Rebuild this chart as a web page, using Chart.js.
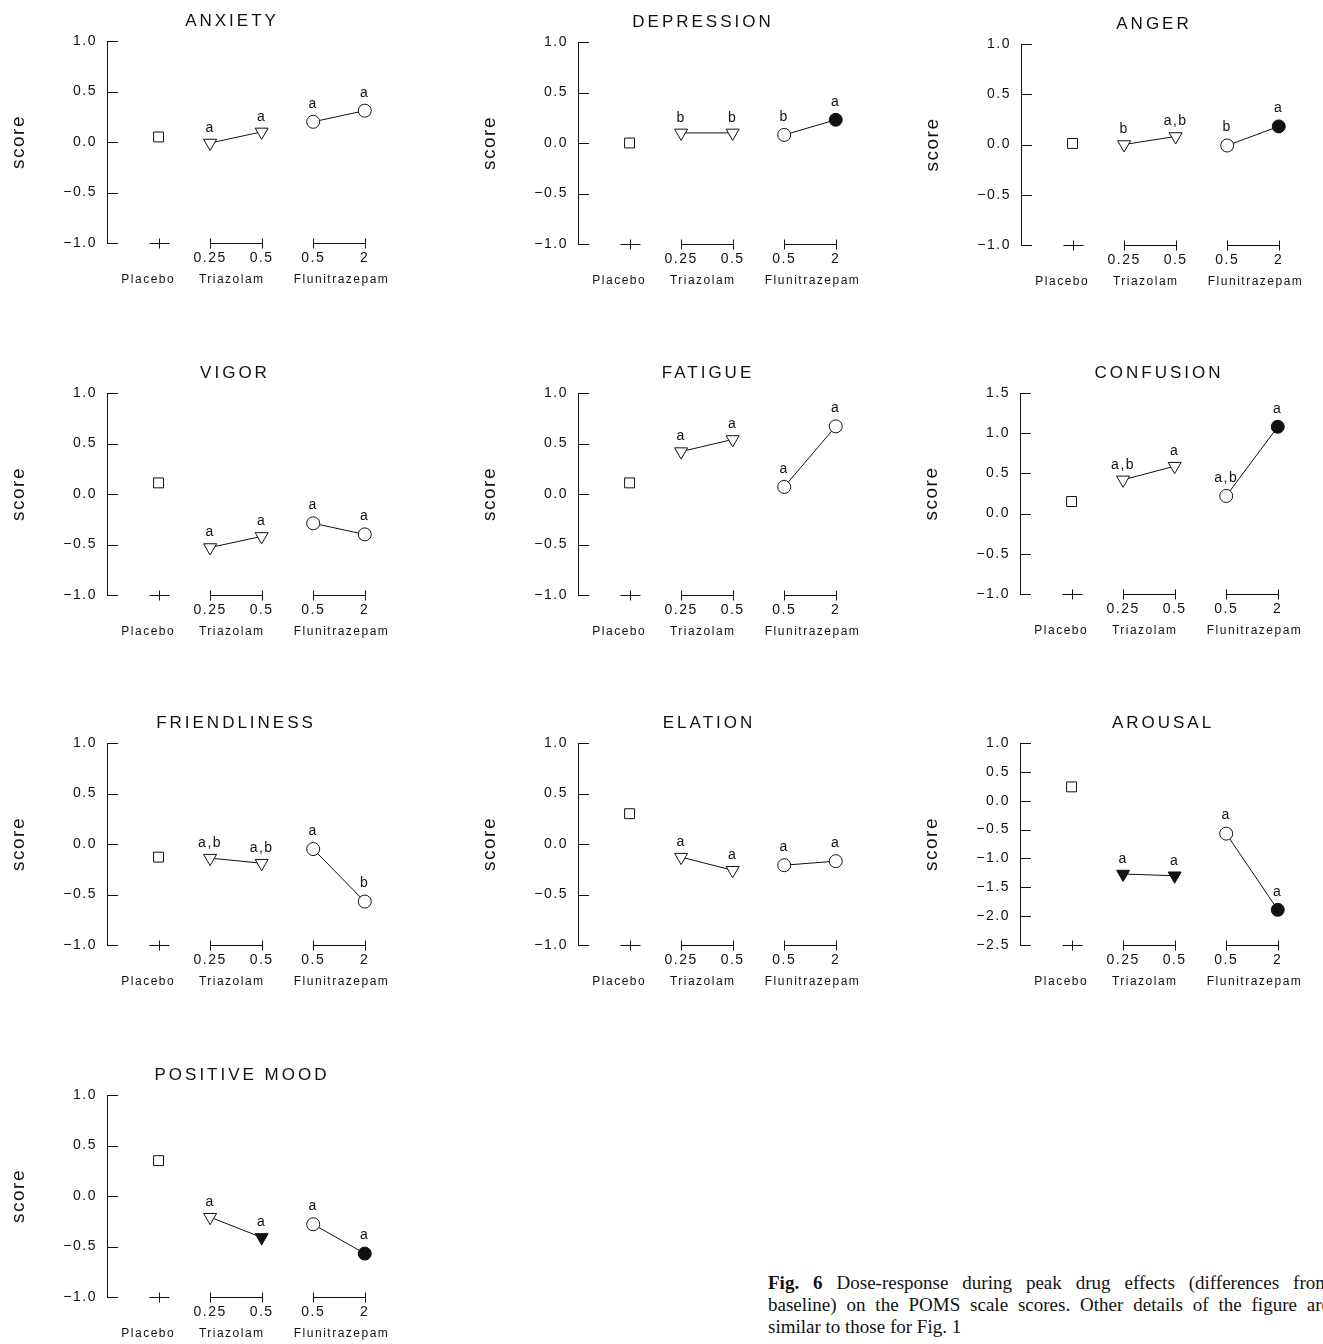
<!DOCTYPE html>
<html>
<head>
<meta charset="utf-8">
<title>POMS dose-response</title>
<script src="https://cdn.jsdelivr.net/npm/chart.js@4.4.1/dist/chart.umd.min.js"></script>
<style>
  html, body { margin: 0; padding: 0; background: #fff; overflow: hidden; }
  body { width: 1323px; height: 1344px; position: relative; }
  .panel { position: absolute; }
  .caption {
    position: absolute; left: 768px; top: 1272px; width: 562px;
    font-family: "Liberation Serif", "DejaVu Serif", serif; font-size: 19px;
    line-height: 22px; color: #111;
  }
  .caption div { text-align: justify; text-align-last: justify; white-space: nowrap; }
  .caption div.last { text-align-last: left; }
</style>
</head>
<body>
<div class="caption">
  <div><b>Fig. 6</b> Dose-response during peak drug effects (differences from</div>
  <div>baseline) on the POMS scale scores. Other details of the figure are</div>
  <div class="last">similar to those for Fig. 1</div>
</div>
<script>
// one entry per POMS scale, in reading order
const scaleNames = ["ANXIETY", "DEPRESSION", "ANGER", "VIGOR", "FATIGUE",
  "CONFUSION", "FRIENDLINESS", "ELATION", "AROUSAL", "POSITIVE MOOD"];

const placebo          = [0.05, 0.00, 0.01, 0.11, 0.11, 0.15, -0.13, 0.30, 0.24, 0.35];
const triazolamLow     = [-0.01, 0.10, 0.00, -0.53, 0.42, 0.42, -0.14, -0.13, -1.27, -0.21];
const triazolamHigh    = [0.10, 0.10, 0.08, -0.42, 0.54, 0.59, -0.19, -0.26, -1.30, -0.41];
const flunitrazLow     = [0.20, 0.08, -0.01, -0.29, 0.07, 0.22, -0.05, -0.21, -0.57, -0.28];
const flunitrazHigh    = [0.31, 0.23, 0.18, -0.40, 0.67, 1.08, -0.57, -0.17, -1.89, -0.57];

// filled marker = significant vs placebo
const triFilled = [[0, 0], [0, 0], [0, 0], [0, 0], [0, 0], [0, 0], [0, 0], [0, 0], [1, 1], [0, 1]];
const fluFilled = [[0, 0], [0, 1], [0, 1], [0, 0], [0, 0], [0, 1], [0, 0], [0, 0], [0, 1], [0, 1]];

const triLetters = [["a", "a"], ["b", "b"], ["b", "a,b"], ["a", "a"], ["a", "a"],
  ["a,b", "a"], ["a,b", "a,b"], ["a", "a"], ["a", "a"], ["a", "a"]];
const fluLetters = [["a", "a"], ["b", "a"], ["b", "a"], ["a", "a"], ["a", "a"],
  ["a,b", "a"], ["a", "b"], ["a", "a"], ["a", "a"], ["a", "a"]];

const yMin = [-1, -1, -1, -1, -1, -1, -1, -1, -2.5, -1];
const yMax = [1, 1, 1, 1, 1, 1.5, 1, 1, 1, 1];

const placeboX = 1;
const doseTicks = [2, 3, 4, 5];
const doseLabels = ["0.25", "0.5", "0.5", "2"];
const groupTicks = [0.8, 2.42, 4.55];
const groupLabels = ["Placebo", "Triazolam", "Flunitrazepam"];

// page placement of each panel (axis x, plot top/bottom, title centre offset)
const panelBoxes = [
  { axisX: 107, top: 41, bottom: 243, titleDx: 125 },
  { axisX: 578, top: 42, bottom: 244, titleDx: 125 },
  { axisX: 1021, top: 44, bottom: 245, titleDx: 133 },
  { axisX: 107, top: 393, bottom: 595, titleDx: 128 },
  { axisX: 578, top: 393, bottom: 595, titleDx: 130 },
  { axisX: 1020, top: 393, bottom: 594, titleDx: 139 },
  { axisX: 107, top: 743, bottom: 945, titleDx: 129 },
  { axisX: 578, top: 743, bottom: 945, titleDx: 131 },
  { axisX: 1020, top: 743, bottom: 945, titleDx: 143 },
  { axisX: 107, top: 1095, bottom: 1297, titleDx: 135 },
];

const INK = "#111";
const SANS = '"Liberation Sans", Arial, sans-serif';
const PX_PER_UNIT = 52;
const PLOT_W = 290;
const Y_AXIS_W = 107;
const PAD_TOP = 36;
const PAD_RIGHT = 6;
const PAD_BOTTOM = 4;
const DOSE_AXIS_H = 24;
const GROUP_AXIS_H = 24;

const fmtScore = (v) => (v < 0 ? "\u2212" : "") + Math.abs(v).toFixed(1);

const panelDecor = {
  id: "panelDecor",
  beforeDraw(chart) {
    chart.ctx.letterSpacing = "1.5px";
  },
  afterDraw(chart, args, opts) {
    const i = opts.index;
    const { ctx, chartArea } = chart;
    const x = chart.scales.x;
    const y = chart.scales.y;
    ctx.save();
    ctx.strokeStyle = INK;
    ctx.fillStyle = INK;
    ctx.lineWidth = 1;

    // inward tick marks on the score axis
    ctx.beginPath();
    y.ticks.forEach((t) => {
      const py = Math.round(y.getPixelForValue(t.value)) + 0.5;
      ctx.moveTo(chartArea.left, py);
      ctx.lineTo(chartArea.left + 11, py);
    });
    ctx.stroke();

    // dose bars along the bottom
    const by = Math.round(y.getPixelForValue(y.min)) + 0.5;
    const cap = 5;
    const px = Math.round(x.getPixelForValue(placeboX)) + 0.5;
    ctx.beginPath();
    ctx.moveTo(px - 10, by);
    ctx.lineTo(px + 10, by);
    ctx.moveTo(px, by - cap);
    ctx.lineTo(px, by + cap);
    for (let k = 0; k < doseTicks.length; k += 2) {
      const a = Math.round(x.getPixelForValue(doseTicks[k])) + 0.5;
      const b = Math.round(x.getPixelForValue(doseTicks[k + 1])) + 0.5;
      ctx.moveTo(a, by);
      ctx.lineTo(b, by);
      ctx.moveTo(a, by - cap);
      ctx.lineTo(a, by + cap);
      ctx.moveTo(b, by - cap);
      ctx.lineTo(b, by + cap);
    }
    ctx.stroke();

    // significance letters
    ctx.font = "14px " + SANS;
    ctx.textAlign = "center";
    ctx.textBaseline = "middle";
    ctx.letterSpacing = "1.5px";
    [[1, triLetters[i], 15], [2, fluLetters[i], 18]].forEach(([ds, letters, lift]) => {
      chart.getDatasetMeta(ds).data.forEach((pt, j) => {
        ctx.fillText(letters[j], pt.x, pt.y - lift);
      });
    });

    // panel title
    ctx.font = "17px " + SANS;
    ctx.letterSpacing = "3px";
    ctx.fillText(scaleNames[i], chartArea.left + opts.titleDx, chartArea.top - 20);
    ctx.restore();
  },
};

function buildPanel(i) {
  const box = panelBoxes[i];
  const plotH = box.bottom - box.top;
  const w = Y_AXIS_W + PLOT_W + PAD_RIGHT;
  const h = PAD_TOP + plotH + DOSE_AXIS_H + GROUP_AXIS_H + PAD_BOTTOM;

  const wrap = document.createElement("div");
  wrap.className = "panel";
  wrap.style.left = box.axisX - Y_AXIS_W + "px";
  wrap.style.top = box.top - PAD_TOP + "px";
  const canvas = document.createElement("canvas");
  canvas.width = w;
  canvas.height = h;
  canvas.style.width = w + "px";
  canvas.style.height = h + "px";
  wrap.appendChild(canvas);
  document.body.appendChild(wrap);

  const fill = (flags) => flags.map((f) => (f ? INK : "#fff"));
  const xMax = PLOT_W / PX_PER_UNIT;

  new Chart(canvas, {
    type: "scatter",
    data: {
      datasets: [
        {
          data: [{ x: placeboX, y: placebo[i] }],
          pointStyle: "rect",
          pointRadius: 7,
          pointBorderWidth: 1,
          pointBorderColor: INK,
          pointBackgroundColor: "#fff",
          clip: false,
        },
        {
          data: [
            { x: doseTicks[0], y: triazolamLow[i] },
            { x: doseTicks[1], y: triazolamHigh[i] },
          ],
          showLine: true,
          borderColor: INK,
          borderWidth: 1,
          pointStyle: "triangle",
          pointRotation: 180,
          pointRadius: 7.5,
          pointBorderWidth: 1,
          pointBorderColor: INK,
          pointBackgroundColor: fill(triFilled[i]),
          clip: false,
        },
        {
          data: [
            { x: doseTicks[2], y: flunitrazLow[i] },
            { x: doseTicks[3], y: flunitrazHigh[i] },
          ],
          showLine: true,
          borderColor: INK,
          borderWidth: 1,
          pointStyle: "circle",
          pointRadius: 6.5,
          pointBorderWidth: 1,
          pointBorderColor: INK,
          pointBackgroundColor: fill(fluFilled[i]),
          clip: false,
        },
      ],
    },
    options: {
      responsive: false,
      animation: false,
      events: [],
      layout: { padding: { top: PAD_TOP, right: PAD_RIGHT, bottom: PAD_BOTTOM, left: 0 } },
      plugins: {
        legend: { display: false },
        tooltip: { enabled: false },
        panelDecor: { index: i, titleDx: box.titleDx },
      },
      scales: {
        x: {
          type: "linear",
          position: "bottom",
          min: 0,
          max: xMax,
          weight: 0,
          grid: { display: false, drawTicks: false },
          border: { display: false },
          afterBuildTicks: (s) => {
            s.ticks = doseTicks.map((v) => ({ value: v }));
          },
          afterFit: (s) => {
            s.height = DOSE_AXIS_H;
          },
          ticks: {
            autoSkip: false,
            maxRotation: 0,
            minRotation: 0,
            padding: 7,
            color: INK,
            font: { family: SANS, size: 14 },
            callback: (v, idx) => doseLabels[idx],
          },
        },
        x2: {
          type: "linear",
          axis: "x",
          position: "bottom",
          min: 0,
          max: xMax,
          weight: 1,
          grid: { display: false, drawTicks: false },
          border: { display: false },
          afterBuildTicks: (s) => {
            s.ticks = groupTicks.map((v) => ({ value: v }));
          },
          afterFit: (s) => {
            s.height = GROUP_AXIS_H;
          },
          ticks: {
            autoSkip: false,
            maxRotation: 0,
            minRotation: 0,
            padding: 5,
            color: INK,
            font: { family: SANS, size: 12 },
            callback: (v, idx) => groupLabels[idx],
          },
        },
        y: {
          type: "linear",
          min: yMin[i],
          max: yMax[i],
          grid: { display: false, drawTicks: false },
          border: { display: true, color: INK, width: 1 },
          afterFit: (s) => {
            s.width = Y_AXIS_W;
          },
          ticks: {
            stepSize: 0.5,
            padding: 10,
            color: INK,
            font: { family: SANS, size: 14 },
            callback: fmtScore,
          },
          title: {
            display: true,
            text: "score",
            color: INK,
            font: { family: SANS, size: 19 },
            padding: { top: 7, bottom: 0 },
          },
        },
      },
    },
    plugins: [panelDecor],
  });
}

scaleNames.forEach((_, i) => buildPanel(i));
</script>
</body>
</html>
